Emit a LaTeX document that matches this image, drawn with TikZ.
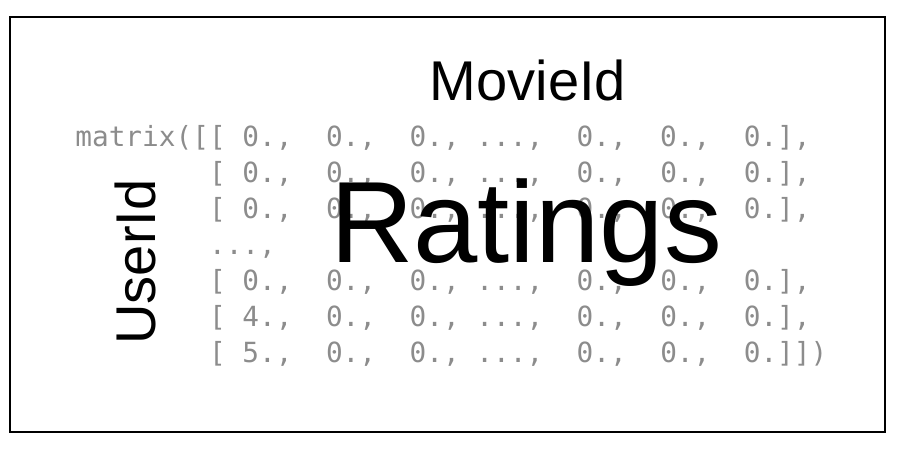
\documentclass[tikz,border=0pt]{standalone}
\usepackage{fontspec}
\setmainfont{Liberation Sans}
\newfontfamily\codefont{DejaVu Sans Mono}
\usepackage{tikz}
\definecolor{code_gray}{HTML}{8C8C8C}

\tikzset{
    codeline/.style={anchor=base west, inner sep=0pt, text=code_gray,
        font=\codefont\fontsize{15.8}{19}\selectfont},
    axislabel/.style={anchor=base, inner sep=0pt, font=\fontsize{31.9}{38}\selectfont},
}

\begin{document}
\begin{tikzpicture}[x=0.02cm, y=-0.02cm]
            \useasboundingbox (0, 0) rectangle (900, 453);
            \draw[line width=1.2pt] (10, 17) rectangle (885, 432);

            % the ratings matrix
            \node[codeline] (row1) at (75, 146) {matrix([[~0.,~~0.,~~0.,~...,~~0.,~~0.,~~0.],};
            \node[codeline] (row2) at (75, 182) {~~~~~~~~[~0.,~~0.,~~0.,~...,~~0.,~~0.,~~0.],};
            \node[codeline] (row3) at (75, 218) {~~~~~~~~[~0.,~~0.,~~0.,~...,~~0.,~~0.,~~0.],};
            \node[codeline] (row4) at (75, 254) {~~~~~~~~...,};
            \node[codeline] (row5) at (75, 290) {~~~~~~~~[~0.,~~0.,~~0.,~...,~~0.,~~0.,~~0.],};
            \node[codeline] (row6) at (75, 326) {~~~~~~~~[~4.,~~0.,~~0.,~...,~~0.,~~0.,~~0.],};
            \node[codeline] (row7) at (75, 362) {~~~~~~~~[~5.,~~0.,~~0.,~...,~~0.,~~0.,~~0.]])};

            % labels
            \node[axislabel] (movie) at (528, 100) {MovieId};
            \node[axislabel, rotate=90] (user) at (155, 262) {UserId};
            \node[anchor=base, inner sep=0pt, font=\fontsize{65.8}{78}\selectfont] (ratings) at (526, 262) {Ratings};

\end{tikzpicture}
\end{document}
